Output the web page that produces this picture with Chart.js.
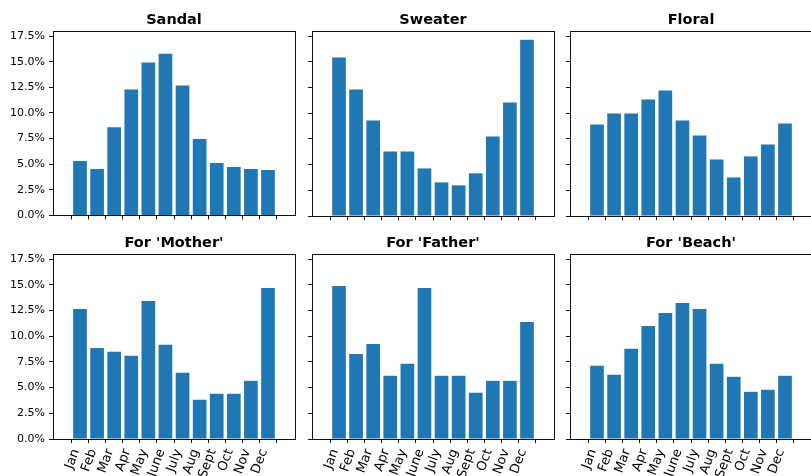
<!DOCTYPE html>
<html><head><meta charset="utf-8">
<script src="https://cdn.jsdelivr.net/npm/chart.js@4.4.0/dist/chart.umd.min.js"></script>
<style>
html,body{margin:0;padding:0;background:#fff;overflow:hidden;width:811px;height:476px;position:relative}
canvas{position:absolute}
</style></head><body>
<script>
const months = ['Jan','Feb','Mar','Apr','May','June','July','Aug','Sept','Oct','Nov','Dec'];
const yTicks = [0, 2.5, 5, 7.5, 10, 12.5, 15, 17.5];
const titles = ['Sandal', 'Sweater', 'Floral', "For 'Mother'", "For 'Father'", "For 'Beach'"];

const sandal  = [5.31, 4.53, 8.61, 12.30, 14.92, 15.79, 12.69, 7.45, 5.12, 4.72, 4.53, 4.44];
const sweater = [15.41, 12.30, 9.29, 6.28, 6.28, 4.63, 3.27, 2.98, 4.15, 7.74, 11.04, 17.16];
const floral  = [8.90, 9.98, 9.98, 11.33, 12.20, 9.29, 7.83, 5.50, 3.75, 5.80, 6.96, 9.00];
const mother  = [12.65, 8.86, 8.48, 8.09, 13.43, 9.16, 6.44, 3.82, 4.40, 4.40, 5.66, 14.69];
const father  = [14.88, 8.28, 9.25, 6.15, 7.31, 14.69, 6.15, 6.15, 4.50, 5.66, 5.66, 11.39];
const beach   = [7.12, 6.24, 8.77, 11.00, 12.26, 13.23, 12.65, 7.31, 6.05, 4.59, 4.79, 6.15];

const seriesList = [sandal, sweater, floral, mother, father, beach];
const yMax = 18.0;

const frame = {
  id: 'frame',
  afterDraw(chart) {
    const a = chart.chartArea, c = chart.ctx;
    c.save();
    c.strokeStyle = '#111';
    c.lineWidth = 1;
    c.strokeRect(Math.round(a.left) + 0.5, Math.round(a.top) + 0.5,
                 Math.round(a.right - a.left), Math.round(a.bottom - a.top));
    c.restore();
  }
};

const FONT = 'DejaVu Sans';
const canvasLeft = [0, 259, 517];
const canvasTop = [0, 223];

seriesList.forEach((values, idx) => {
  const row = Math.floor(idx / 3), col = idx % 3;
  const xH = row === 0 ? 10 : 37;
  const W = 298, H = 31 + 185 + xH;
  const cv = document.createElement('canvas');
  cv.width = W; cv.height = H;
  cv.style.width = W + 'px'; cv.style.height = H + 'px';
  cv.style.left = canvasLeft[col] + 'px';
  cv.style.top = canvasTop[row] + 'px';
  document.body.appendChild(cv);

  new Chart(cv, {
    type: 'bar',
    data: {
      datasets: [{
        data: values.map((v, i) => ({ x: i, y: v })),
        backgroundColor: '#1f77b4',
        borderWidth: 0,
        barPercentage: 0.8,
        categoryPercentage: 1.0
      }]
    },
    options: {
      responsive: false,
      animation: false,
      devicePixelRatio: 1,
      layout: { padding: { left: 0, right: 3, top: 0, bottom: 0 } },
      plugins: {
        legend: { display: false },
        tooltip: { enabled: false },
        title: {
          display: true,
          fullSize: false,
          text: titles[idx],
          color: '#000',
          font: { family: FONT, size: 14.5, weight: 'bold' },
          padding: { top: 11.2, bottom: 2.4 }
        }
      },
      scales: {
        x: {
          type: 'linear',
          min: -0.99,
          max: 11.99,
          afterBuildTicks: s => { s.ticks = months.map((m, i) => ({ value: i })); },
          afterFit: s => { s.height = xH; },
          grid: { drawOnChartArea: false, drawTicks: true, tickLength: 4, tickColor: '#111', lineWidth: 1 },
          border: { display: true, color: '#111', width: 1 },
          ticks: {
            display: row === 1,
            autoSkip: false,
            minRotation: 70,
            maxRotation: 70,
            labelOffset: -4,
            padding: 4,
            color: '#000',
            font: { family: FONT, size: 13 },
            callback: v => months[v]
          }
        },
        y: {
          min: 0,
          max: yMax,
          afterBuildTicks: s => { s.ticks = yTicks.map(v => ({ value: v })); },
          afterFit: s => { s.width = 53; },
          grid: { drawOnChartArea: false, drawTicks: true, tickLength: 4, tickColor: '#111', lineWidth: 1 },
          border: { display: true, color: '#111', width: 1 },
          ticks: {
            display: col === 0,
            padding: 4,
            color: '#000',
            font: { family: FONT, size: 11 },
            callback: v => v.toFixed(1) + '%'
          }
        }
      }
    },
    plugins: [frame]
  });
});
</script>
</body></html>
